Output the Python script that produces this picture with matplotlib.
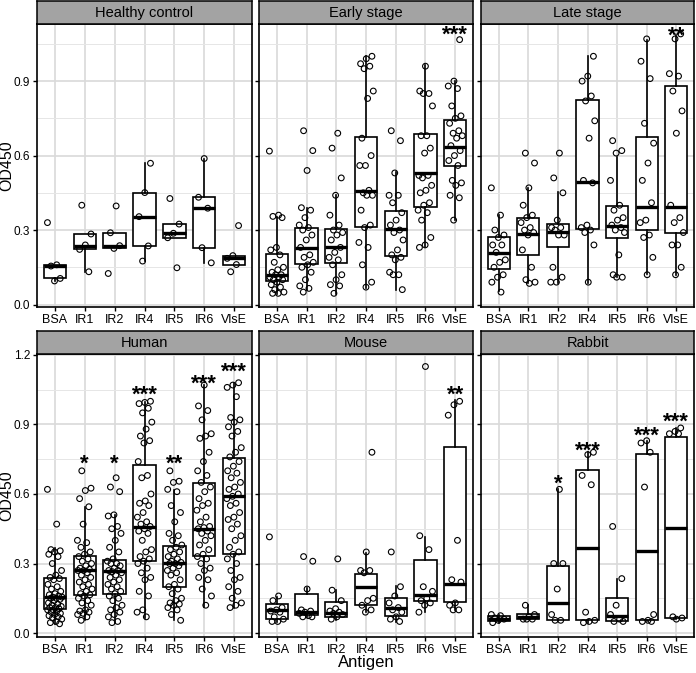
import matplotlib
matplotlib.use("Agg")
import matplotlib.pyplot as plt

plt.rcParams['font.family'] = ['Liberation Sans', 'DejaVu Sans']

antigens = ["BSA", "IR1", "IR2", "IR4", "IR5", "IR6", "VlsE"]
panel_titles = ["Healthy control", "Early stage", "Late stage", "Human", "Mouse", "Rabbit"]

# --- punkty (OD450) ---
healthy_points = [
    [0.33, 0.16, 0.155, 0.105, 0.095],
    [0.40, 0.284, 0.24, 0.222, 0.132],
    [0.397, 0.289, 0.237, 0.226, 0.125],
    [0.569, 0.451, 0.354, 0.236, 0.175],
    [0.427, 0.324, 0.287, 0.269, 0.148],
    [0.588, 0.432, 0.388, 0.229, 0.168],
    [0.318, 0.197, 0.186, 0.161, 0.132],
]
early_points = [
    [0.618, 0.36, 0.355, 0.35, 0.23, 0.22, 0.20, 0.17, 0.15, 0.14, 0.13, 0.12, 0.12, 0.11, 0.11,
     0.10, 0.10, 0.09, 0.08, 0.07, 0.06, 0.05, 0.045, 0.045],
    [0.70, 0.62, 0.54, 0.39, 0.38, 0.35, 0.32, 0.31, 0.30, 0.28, 0.26, 0.23, 0.20, 0.19, 0.17,
     0.16, 0.15, 0.13, 0.10, 0.075, 0.065, 0.05],
    [0.69, 0.63, 0.51, 0.44, 0.36, 0.32, 0.30, 0.29, 0.28, 0.26, 0.23, 0.21, 0.19, 0.18, 0.16,
     0.12, 0.10, 0.08, 0.075, 0.045],
    [1.0, 0.99, 0.97, 0.96, 0.95, 0.86, 0.83, 0.67, 0.60, 0.56, 0.56, 0.46, 0.45, 0.44, 0.44,
     0.38, 0.32, 0.31, 0.25, 0.23, 0.16, 0.09, 0.07],
    [0.70, 0.66, 0.53, 0.44, 0.44, 0.41, 0.37, 0.34, 0.32, 0.30, 0.29, 0.26, 0.22, 0.20, 0.19,
     0.18, 0.13, 0.12, 0.12, 0.06],
    [0.96, 0.86, 0.85, 0.85, 0.80, 0.68, 0.68, 0.63, 0.61, 0.52, 0.52, 0.51, 0.48, 0.46, 0.45,
     0.41, 0.40, 0.38, 0.37, 0.34, 0.27, 0.24, 0.23],
    [1.067, 0.90, 0.88, 0.87, 0.80, 0.76, 0.75, 0.73, 0.70, 0.69, 0.68, 0.67, 0.64, 0.62, 0.60,
     0.58, 0.56, 0.50, 0.49, 0.48, 0.44, 0.43, 0.34],
]
late_points = [
    [0.47, 0.36, 0.30, 0.28, 0.27, 0.24, 0.24, 0.21, 0.18, 0.17, 0.15, 0.12, 0.11, 0.09, 0.05],
    [0.61, 0.57, 0.47, 0.40, 0.36, 0.35, 0.33, 0.31, 0.30, 0.29, 0.28, 0.22, 0.15, 0.10, 0.09, 0.085],
    [0.61, 0.51, 0.45, 0.34, 0.31, 0.31, 0.30, 0.28, 0.28, 0.15, 0.11, 0.09, 0.09],
    [1.0, 0.92, 0.90, 0.84, 0.82, 0.74, 0.67, 0.50, 0.49, 0.32, 0.31, 0.30, 0.29, 0.24, 0.09],
    [0.66, 0.62, 0.61, 0.50, 0.40, 0.38, 0.35, 0.34, 0.32, 0.31, 0.30, 0.29, 0.20, 0.12, 0.11, 0.11],
    [1.07, 0.98, 0.91, 0.73, 0.65, 0.57, 0.50, 0.41, 0.34, 0.33, 0.28, 0.27, 0.19, 0.12],
    [1.09, 1.07, 0.93, 0.92, 0.86, 0.78, 0.69, 0.40, 0.35, 0.33, 0.29, 0.24, 0.24, 0.15, 0.12],
]
human_points = [
    [0.62, 0.47, 0.36, 0.355, 0.35, 0.34, 0.33, 0.30, 0.27, 0.25, 0.24, 0.235, 0.23, 0.21, 0.20,
     0.19, 0.18, 0.17, 0.165, 0.16, 0.155, 0.155, 0.15, 0.15, 0.145, 0.14, 0.13, 0.125, 0.12,
     0.115, 0.11, 0.11, 0.105, 0.10, 0.10, 0.095, 0.09, 0.085, 0.08, 0.075, 0.07, 0.065, 0.06,
     0.05, 0.045, 0.04],
    [0.70, 0.625, 0.615, 0.58, 0.545, 0.47, 0.40, 0.39, 0.37, 0.35, 0.34, 0.33, 0.32, 0.31, 0.30,
     0.29, 0.28, 0.275, 0.27, 0.27, 0.26, 0.25, 0.24, 0.23, 0.22, 0.21, 0.20, 0.19, 0.18, 0.17,
     0.165, 0.16, 0.15, 0.14, 0.13, 0.12, 0.10, 0.095, 0.09, 0.085, 0.08, 0.07, 0.055],
    [0.67, 0.63, 0.61, 0.51, 0.505, 0.46, 0.45, 0.43, 0.40, 0.37, 0.35, 0.32, 0.31, 0.30, 0.30,
     0.29, 0.28, 0.27, 0.27, 0.265, 0.26, 0.25, 0.24, 0.23, 0.22, 0.21, 0.20, 0.19, 0.18, 0.17,
     0.16, 0.15, 0.14, 0.12, 0.11, 0.10, 0.09, 0.08, 0.07, 0.05, 0.045],
    [1.0, 0.995, 0.99, 0.97, 0.95, 0.91, 0.88, 0.85, 0.83, 0.82, 0.74, 0.68, 0.67, 0.60, 0.57,
     0.56, 0.55, 0.52, 0.50, 0.48, 0.47, 0.46, 0.45, 0.44, 0.43, 0.40, 0.36, 0.35, 0.33, 0.32,
     0.31, 0.30, 0.28, 0.26, 0.24, 0.23, 0.18, 0.16, 0.10, 0.09, 0.07],
    [0.70, 0.655, 0.65, 0.62, 0.61, 0.55, 0.52, 0.48, 0.43, 0.42, 0.40, 0.38, 0.37, 0.36, 0.35,
     0.34, 0.33, 0.32, 0.31, 0.305, 0.30, 0.30, 0.29, 0.28, 0.27, 0.26, 0.25, 0.23, 0.21, 0.20,
     0.19, 0.17, 0.15, 0.14, 0.13, 0.125, 0.12, 0.11, 0.10, 0.08, 0.055],
    [1.07, 0.98, 0.96, 0.92, 0.86, 0.85, 0.84, 0.78, 0.74, 0.70, 0.68, 0.65, 0.63, 0.61, 0.58,
     0.56, 0.55, 0.53, 0.50, 0.48, 0.46, 0.455, 0.45, 0.44, 0.43, 0.42, 0.40, 0.38, 0.36, 0.34,
     0.33, 0.32, 0.30, 0.28, 0.27, 0.24, 0.23, 0.19, 0.16, 0.12],
    [1.08, 1.07, 1.06, 1.02, 0.93, 0.92, 0.91, 0.89, 0.87, 0.85, 0.80, 0.78, 0.76, 0.74, 0.72,
     0.70, 0.69, 0.67, 0.65, 0.63, 0.62, 0.60, 0.59, 0.58, 0.56, 0.55, 0.52, 0.50, 0.49, 0.47,
     0.45, 0.42, 0.40, 0.37, 0.35, 0.34, 0.32, 0.30, 0.27, 0.24, 0.23, 0.20, 0.18, 0.15, 0.13,
     0.12, 0.11],
]
mouse_points = [
    [0.415, 0.16, 0.14, 0.11, 0.10, 0.095, 0.09, 0.07, 0.06, 0.05, 0.05],
    [0.33, 0.31, 0.19, 0.10, 0.095, 0.09, 0.085, 0.075, 0.07, 0.07],
    [0.32, 0.185, 0.14, 0.105, 0.095, 0.09, 0.085, 0.08, 0.07, 0.06],
    [0.78, 0.35, 0.27, 0.27, 0.26, 0.15, 0.14, 0.12, 0.10, 0.09],
    [0.35, 0.20, 0.16, 0.13, 0.11, 0.10, 0.09, 0.07, 0.06, 0.05],
    [1.15, 0.42, 0.36, 0.20, 0.18, 0.15, 0.14, 0.13, 0.12, 0.09],
    [1.0, 0.985, 0.94, 0.40, 0.23, 0.22, 0.13, 0.12, 0.10, 0.10],
]
rabbit_points = [
    [0.08, 0.075, 0.065, 0.06, 0.055, 0.045],
    [0.12, 0.08, 0.07, 0.06, 0.06, 0.06],
    [0.62, 0.30, 0.30, 0.19, 0.08, 0.055, 0.055],
    [0.78, 0.77, 0.68, 0.64, 0.09, 0.055, 0.05, 0.045],
    [0.46, 0.235, 0.12, 0.08, 0.06, 0.05, 0.05],
    [0.83, 0.82, 0.78, 0.63, 0.08, 0.055, 0.05, 0.05],
    [0.885, 0.87, 0.86, 0.86, 0.07, 0.065, 0.06],
]

# --- pudełka: (dolny wąs, Q1, mediana, Q3, górny wąs) ---
healthy_box = [(0.095, 0.105, 0.155, 0.16, 0.16), (0.132, 0.222, 0.236, 0.284, 0.284),
               (0.226, 0.226, 0.237, 0.289, 0.289), (0.175, 0.236, 0.354, 0.451, 0.569),
               (0.269, 0.269, 0.287, 0.324, 0.324), (0.168, 0.229, 0.388, 0.432, 0.588),
               (0.161, 0.161, 0.186, 0.197, 0.197)]
early_box = [(0.044, 0.096, 0.118, 0.202, 0.354), (0.058, 0.163, 0.226, 0.308, 0.388),
             (0.044, 0.166, 0.233, 0.303, 0.441), (0.065, 0.314, 0.458, 0.674, 1.003),
             (0.058, 0.197, 0.303, 0.378, 0.532), (0.233, 0.394, 0.529, 0.685, 0.965),
             (0.341, 0.556, 0.634, 0.744, 0.899)]
late_box = [(0.055, 0.145, 0.206, 0.271, 0.361), (0.085, 0.199, 0.283, 0.35, 0.468),
            (0.087, 0.23, 0.291, 0.324, 0.452), (0.087, 0.304, 0.493, 0.825, 1.0),
            (0.109, 0.266, 0.318, 0.397, 0.596), (0.122, 0.30, 0.394, 0.673, 1.067),
            (0.118, 0.287, 0.394, 0.879, 1.087)]
human_box = [(0.04, 0.105, 0.156, 0.238, 0.365), (0.055, 0.166, 0.274, 0.331, 0.545),
             (0.043, 0.17, 0.268, 0.317, 0.509), (0.066, 0.31, 0.458, 0.725, 0.999),
             (0.055, 0.199, 0.304, 0.375, 0.617), (0.112, 0.333, 0.451, 0.646, 1.071),
             (0.11, 0.34, 0.592, 0.754, 1.078)]
mouse_box = [(0.048, 0.062, 0.098, 0.127, 0.156), (0.069, 0.076, 0.091, 0.17, 0.196),
             (0.055, 0.069, 0.086, 0.134, 0.187), (0.091, 0.12, 0.199, 0.256, 0.346),
             (0.048, 0.073, 0.108, 0.153, 0.202), (0.091, 0.138, 0.163, 0.314, 0.415),
             (0.101, 0.134, 0.213, 0.804, 1.006)]
rabbit_box = [(0.045, 0.052, 0.062, 0.072, 0.08), (0.06, 0.06, 0.069, 0.081, 0.12),
              (0.055, 0.058, 0.131, 0.29, 0.62), (0.045, 0.055, 0.369, 0.703, 0.78),
              (0.05, 0.052, 0.072, 0.151, 0.235), (0.05, 0.055, 0.354, 0.772, 0.83),
              (0.06, 0.066, 0.455, 0.844, 0.885)]

# --- gwiazdki istotności: (indeks antygenu, tekst, wysokość środka) ---
early_stars = [(6, "***", 1.114)]
late_stars = [(6, "**", 1.11)]
human_stars = [(1, "*", 0.761), (2, "*", 0.761), (3, "***", 1.06), (4, "**", 0.761),
               (5, "***", 1.107), (6, "***", 1.157)]
mouse_stars = [(6, "**", 1.06)]
rabbit_stars = [(2, "*", 0.674), (3, "***", 0.818), (5, "***", 0.879), (6, "***", 0.941)]

panels = [
    (healthy_points, healthy_box, []),
    (early_points, early_box, early_stars),
    (late_points, late_box, late_stars),
    (human_points, human_box, human_stars),
    (mouse_points, mouse_box, mouse_stars),
    (rabbit_points, rabbit_box, rabbit_stars),
]

W, H = 696, 673
fig = plt.figure(figsize=(W / 100, H / 100), dpi=100)

col_x = [(37, 252), (259, 473), (481, 694)]
row_y = [(24, 307), (354, 637)]
strip_h = 23
row_ylim = [(-0.01, 1.13), (-0.017, 1.204)]
row_ticks = [[0.0, 0.3, 0.6, 0.9], [0.0, 0.3, 0.6, 0.9, 1.2]]
row_minor = [[0.15, 0.45, 0.75, 1.05], [0.15, 0.45, 0.75, 1.05]]
star_size = 16

for k, (pts, box, stars) in enumerate(panels):
    r, c = divmod(k, 3)
    x0, x1 = col_x[c]
    y0, y1 = row_y[r]
    ax = fig.add_axes([x0 / W, 1 - y1 / H, (x1 - x0) / W, (y1 - y0) / H])
    sax = fig.add_axes([x0 / W, 1 - y0 / H, (x1 - x0) / W, strip_h / H])

    # pasek z tytułem
    sax.set_facecolor("#a3a3a3")
    sax.set_xticks([]); sax.set_yticks([])
    for s in sax.spines.values():
        s.set_linewidth(1.1)
    sax.text(0.5, 0.47, panel_titles[k], ha="center", va="center", fontsize=10.5,
             transform=sax.transAxes)

    pos = list(range(1, len(antigens) + 1))
    # siatka
    for p in pos:
        ax.axvline(p, color="#d9d9d9", lw=1.2, zorder=0)
    for t in row_ticks[r]:
        ax.axhline(t, color="#d9d9d9", lw=1.2, zorder=0)
    for t in row_minor[r]:
        ax.axhline(t, color="#e6e6e6", lw=0.7, zorder=0)

    stats = [dict(whislo=b[0], q1=b[1], med=b[2], q3=b[3], whishi=b[4], fliers=[]) for b in box]
    ax.bxp(stats, positions=pos, widths=0.75, showfliers=False, showcaps=False,
           patch_artist=True,
           boxprops=dict(facecolor="white", edgecolor="black", linewidth=1.2),
           whiskerprops=dict(color="black", linewidth=1.2),
           medianprops=dict(color="black", linewidth=2.4), zorder=2)

    for i, vals in enumerate(pts):
        n = len(vals)
        xs = [pos[i] + ((j * 0.618034 + 0.3 * i) % 1 - 0.5) * 0.5 for j in range(n)]
        ax.scatter(xs, vals, s=17, facecolors="none", edgecolors="black",
                   linewidths=0.8, zorder=3)

    # gwiazdka ma środek ok. 0.58 em nad linią bazową
    for i, txt, yv in stars:
        ax.annotate(txt, (pos[i], yv), xytext=(0, -0.58 * star_size), textcoords="offset points",
                    ha="center", va="baseline", fontsize=star_size, fontweight="bold",
                    zorder=4, annotation_clip=False)

    ax.set_xlim(0.4, 7.6)
    ax.set_ylim(*row_ylim[r])
    ax.set_xticks(pos)
    ax.set_xticklabels(antigens, fontsize=9)
    ax.set_yticks(row_ticks[r])
    if c == 0:
        ax.set_yticklabels(["%.1f" % t for t in row_ticks[r]], fontsize=8.5)
        fig.text(6.5 / W, 1 - (y0 + y1) / 2 / H, "OD450", rotation=90, ha="center",
                 va="center", fontsize=11.5)
    else:
        ax.set_yticklabels([])
    ax.tick_params(length=3, width=1, pad=2, colors="black")
    for s in ax.spines.values():
        s.set_linewidth(1.2)

fig.text((col_x[1][0] + col_x[1][1]) / 2 / W, 1 - 663 / H, "Antigen", ha="center",
         va="center", fontsize=12)

fig.savefig("out.png", dpi=100)
